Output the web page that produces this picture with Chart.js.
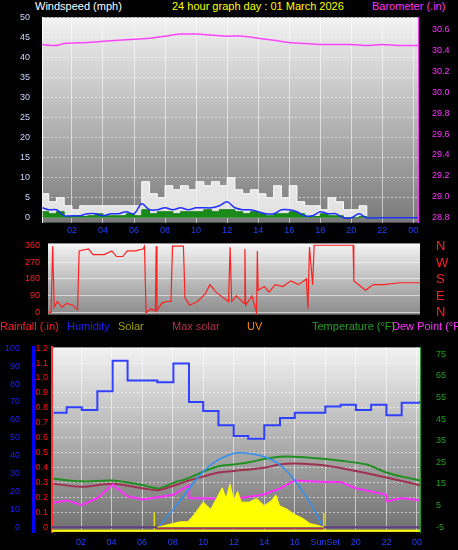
<!DOCTYPE html>
<html>
<head>
<meta charset="utf-8">
<script src="https://cdn.jsdelivr.net/npm/chart.js@4.4.0/dist/chart.umd.min.js"></script>
<style>
  body { margin: 0; background: #000; width: 458px; height: 550px; overflow: hidden; font-family: "Liberation Sans", Arial, sans-serif; }
  canvas { position: absolute; left: 0; }
  .t { position: absolute; font-size: 11px; white-space: nowrap; line-height: 12px; }
</style>
</head>
<body>
<div class="t" style="left:35px;top:0;color:#fff">Windspeed (mph)</div>
<div class="t" style="left:172px;top:0;color:#ffff00">24 hour graph day : 01 March 2026</div>
<div class="t" style="left:372px;top:0;color:#ff33ff">Barometer (.in)</div>
<canvas id="top" style="top:0" width="458" height="240"></canvas>
<canvas id="mid" style="top:230px" width="458" height="98"></canvas>
<div class="t" style="left:436px;top:238px;color:#ff2020;font-size:13px;line-height:16.5px">N<br>W<br>S<br>E<br>N</div>
<div class="t" style="left:0;top:320px;color:#ff2020">Rainfall (.in)</div>
<div class="t" style="left:67px;top:320px;color:#2020ff">Humidity</div>
<div class="t" style="left:118px;top:320px;color:#a0a000">Solar</div>
<div class="t" style="left:172px;top:320px;color:#b03050">Max solar</div>
<div class="t" style="left:247px;top:320px;color:#ff8c00">UV</div>
<div class="t" style="left:312px;top:320px;color:#20a020">Temperature (°F)</div>
<div class="t" style="left:392px;top:320px;color:#ff33ff">Dew Point (°F</div>
<canvas id="bot" style="top:334px" width="458" height="216"></canvas>
<script>
// ---- data (hours of the day) ----
const baroHours = [0, 1, 1.5, 3, 4, 5, 6, 7, 8, 9, 10, 11, 12, 13, 14, 15, 16, 17, 18, 19, 20, 21, 22, 23, 24.3];
const baroValues = [30.46, 30.45, 30.47, 30.48, 30.49, 30.50, 30.51, 30.52, 30.54, 30.56, 30.56, 30.55, 30.54, 30.54, 30.52, 30.50, 30.48, 30.47, 30.46, 30.46, 30.46, 30.45, 30.46, 30.45, 30.45];

const windHours = [0.1, 0.5, 1, 1.5, 2, 2.5, 3, 3.5, 4, 4.5, 5, 5.5, 6, 6.5, 7, 7.5, 8, 8.5, 9, 9.5, 10, 10.5, 11, 11.5, 12, 12.5, 13, 13.5, 14, 14.5, 15, 15.5, 16, 16.5, 17, 17.5, 18, 18.5, 19, 19.5, 20, 20.5, 21, 22, 23, 24.3];
const windGust = [6, 4, 5, 3, 2, 3, 3, 3, 3, 3, 3, 3, 3, 9, 6, 5, 8, 7, 8, 7, 9, 8, 9, 8, 10, 7, 6, 7, 6, 5, 8, 5, 8, 4, 3, 3, 2, 5, 4, 2, 2, 3, 0, 0, 0, 0];
const windAvg = [2.5, 2, 2, 0.5, 0.5, 0.5, 1, 1, 0.5, 1, 1, 1.5, 1, 3.5, 2, 2, 2.5, 2, 2.5, 2, 2.5, 2.5, 2.5, 3, 4, 2.5, 2, 2, 1.5, 1, 1, 2, 2, 1.5, 0.5, 0.5, 1.5, 1, 1, 0, 0, 1, 0, 0, 0, 0];
const windSpeed = [1.5, 1, 1.5, 0.3, 0.5, 0.3, 0.5, 1, 0.5, 0.5, 0.5, 1, 0.5, 2, 1, 1.5, 1.5, 1, 1.5, 1.5, 1.5, 2, 1.5, 2, 2, 1.5, 1, 1.5, 1, 0.5, 1, 1, 1.5, 1, 0.3, 0.3, 1, 0.5, 0.5, 0, 0, 0.3, 0, 0, 0, 0];
const windTicks = [0, 5, 10, 15, 20, 25, 30, 35, 40, 45, 50];
const baroTicks = [28.8, 29, 29.2, 29.4, 29.6, 29.8, 30, 30.2, 30.4, 30.6];

const dirHours = [0.1, 0.6, 0.7, 0.8, 1.0, 1.3, 1.6, 2.0, 2.3, 2.4, 3.0, 3.3, 4.0, 4.5, 4.8, 5.2, 5.5, 6.0, 6.5, 6.6, 6.7, 7.0, 7.3, 7.35, 7.4, 7.7, 8.0, 8.3, 8.4, 9.1, 9.2, 9.5, 10, 10.5, 10.8, 11.2, 11.5, 12, 12.1, 12.2, 12.5, 13.0, 13.05, 13.1, 13.5, 13.8, 13.85, 13.9, 14.3, 14.6, 15, 15.5, 16, 16.5, 17, 17.1, 17.2, 17.4, 17.5, 20, 20.05, 20.5, 20.8, 21.3, 22, 23, 24.3];
const dirValues = [10, 0, 355, 30, 60, 30, 50, 40, 15, 330, 340, 310, 310, 330, 300, 300, 330, 330, 340, 355, 0, 20, 10, 355, 10, 50, 60, 60, 355, 355, 80, 40, 60, 100, 150, 110, 90, 60, 350, 60, 90, 50, 340, 40, 90, 0, 330, 120, 140, 110, 150, 140, 170, 150, 180, 20, 350, 150, 360, 360, 170, 140, 120, 150, 150, 160, 160];
const dirTicks = [0, 90, 180, 270, 360];

const humHours = [0.2, 1.06, 2.05, 3.07, 4.07, 5.05, 7.0, 8.05, 9.07, 10.0, 11.0, 12.0, 12.95, 14.0, 15.03, 16.0, 18.0, 19.0, 20.0, 21.0, 22.0, 23.0, 24.2];
const humValues = [64, 67, 65.5, 76, 93, 82, 81, 91.5, 70, 65, 57, 51, 49.5, 57, 61, 64, 67.5, 68.5, 65.5, 68.5, 62.5, 69.5, 70.5];

const tempHours = [0.2, 2.05, 4.1, 6.1, 7.1, 8.05, 9.07, 10.0, 11.0, 12.0, 13.0, 14.0, 15.0, 16.0, 18.0, 19.0, 20.7, 22.0, 23.0, 24.2];
const tempValues = [17.4, 16.2, 16.6, 14.4, 12.9, 15.5, 17.8, 20.7, 23.2, 24, 25, 26.5, 27.6, 27.6, 26.5, 25.7, 24, 20.3, 18.4, 16.6];
const maxSolarHours = [0.2, 2.05, 4.1, 6.1, 7.1, 9.07, 10.0, 11.0, 12.0, 14.0, 15.0, 16.0, 18.0, 20.0, 22.0, 24.2];
const maxSolarValues = [15.1, 13.7, 15.1, 12.9, 12.2, 16.6, 18.4, 20.3, 21, 22.5, 24, 24.4, 23.5, 21, 18, 14.4];
const dewHours = [0.2, 1.06, 2.05, 3.07, 4.07, 5.05, 6.08, 8.05, 9.07, 9.1, 11.97, 13.9, 15.03, 16.0, 18.0, 19.0, 20.0, 22.0, 22.05, 23.0, 24.2];
const dewValues = [6.3, 7.4, 5.3, 8.5, 14.7, 9.3, 7.8, 10, 14.4, 8.5, 8, 10, 12.9, 16.6, 15.9, 15.9, 13, 10, 7, 8.5, 7.5];
const sunArcHours = [7.06, 8, 9, 10, 11, 12, 12.4, 13, 14, 15, 16, 17, 17.87];
const sunArcValues = [-5, 2.9, 12.2, 20.7, 26.2, 29.1, 29.4, 29.1, 27.6, 24, 16.6, 6.3, -5];
const solarHours = [7, 7.5, 8, 8.5, 9, 9.5, 10, 10.5, 11, 11.25, 11.5, 11.75, 12, 12.25, 12.5, 13, 13.5, 14, 14.5, 14.75, 15, 15.5, 16, 16.5, 17, 17.5, 17.9];
const solarValues = [0, 1, 2, 3, 3, 8, 14, 10, 18, 22, 16, 24, 15, 20, 14, 14, 16, 12, 15, 18, 12, 10, 7, 5, 2, 1, 0];
const sunLines = [6.8, 17.9];
const humTicks = [0, 10, 20, 30, 40, 50, 60, 70, 80, 90, 100];
const rainTicks = [0, 0.1, 0.2, 0.3, 0.4, 0.5, 0.6, 0.7, 0.8, 0.9, 1, 1.1, 1.2];
const tempTicks = [-5, 0, 5, 10, 15, 20, 25, 30, 35, 40, 45, 50, 55, 60, 65, 70, 75];
const hourTicks = [2, 4, 6, 8, 10, 12, 14, 16, 18, 20, 22, 24];

const pts = (xs, ys) => xs.map((x, i) => ({ x, y: ys[i] }));
const fixTicks = list => s => { s.ticks = list.map(v => ({ value: v })); };
const hourLabel = v => String(v % 24).padStart(2, '0');
const font = { family: 'Liberation Sans', size: 9 };
const grid = { color: 'rgba(255,255,255,0.55)', borderDash: [1, 2], drawTicks: false };
const xTicks = { color: '#2040ff', font, maxRotation: 0, autoSkip: false };

const gradientBg = (c1, c2) => ({
    id: 'bg',
    beforeDraw(chart) {
        const { ctx, chartArea: a } = chart;
        const g = ctx.createLinearGradient(0, a.top, 0, a.bottom);
        g.addColorStop(0, c1);
        g.addColorStop(1, c2);
        ctx.save();
        ctx.fillStyle = g;
        ctx.fillRect(a.left, a.top, a.right - a.left, a.bottom - a.top);
        ctx.restore();
    }
});

const line = (data, color, extra) => Object.assign({
    data, borderColor: color, borderWidth: 1.5, pointRadius: 0, fill: false
}, extra);

// ---- top chart: wind & barometer ----
new Chart(document.getElementById('top'), {
    type: 'line',
    data: {
        datasets: [
            line(pts(baroHours, baroValues), '#ff44ff', { yAxisID: 'baro', tension: 0.3, order: 0 }),
            line(pts(windHours, windGust), '#ffffff', { yAxisID: 'wind', fill: 'origin', backgroundColor: 'rgba(245,245,245,0.85)', stepped: true, borderWidth: 1, order: 3 }),
            line(pts(windHours, windSpeed), '#108010', { yAxisID: 'wind', fill: 'origin', backgroundColor: '#1a8a1a', stepped: true, borderWidth: 1, order: 2 }),
            line(pts(windHours, windAvg), '#2030ff', { yAxisID: 'wind', tension: 0.3, order: 1 })
        ]
    },
    options: {
        responsive: false, animation: false,
        layout: { padding: { top: 10 } },
        plugins: { legend: { display: false }, tooltip: { enabled: false } },
        scales: {
            x: {
                type: 'linear', min: 0.07, max: 24.3,
                afterBuildTicks: fixTicks(hourTicks), afterFit: s => { s.height = 15; },
                ticks: { ...xTicks, callback: hourLabel, padding: 3 },
                grid, border: { display: false }
            },
            wind: {
                position: 'left', min: -1.2, max: 50,
                afterBuildTicks: fixTicks(windTicks), afterFit: s => { s.width = 42; },
                ticks: { color: '#c8d8ff', font, padding: 12 },
                grid, border: { color: '#ffffff', dash: [2, 2] }
            },
            baro: {
                position: 'right', min: 28.75, max: 30.72,
                afterBuildTicks: fixTicks(baroTicks), afterFit: s => { s.width = 40; },
                ticks: { color: '#ff33ff', font, padding: 6 },
                grid: { display: false }, border: { color: '#ff33ff', dash: [2, 2] }
            }
        }
    },
    plugins: [gradientBg('#f2f2f2', '#7a7a7a')]
});

// ---- middle chart: wind direction ----
new Chart(document.getElementById('mid'), {
    type: 'line',
    data: { datasets: [line(pts(dirHours, dirValues), '#ff2020', { borderWidth: 1.2 })] },
    options: {
        responsive: false, animation: false,
        layout: { padding: { top: 0, bottom: 0, right: 38 } },
        plugins: { legend: { display: false }, tooltip: { enabled: false } },
        scales: {
            x: { type: 'linear', min: 0.4, max: 24.3, display: false },
            y: {
                min: -10, max: 370,
                afterBuildTicks: fixTicks(dirTicks), afterFit: s => { s.width = 48; },
                ticks: { color: '#ff2020', font, padding: 8 },
                grid, border: { display: false }
            }
        }
    },
    plugins: [gradientBg('#f4f4f4', '#8a8a8a')]
});

// ---- bottom chart: temperature, humidity, solar ----
new Chart(document.getElementById('bot'), {
    type: 'line',
    data: {
        datasets: [
            line(pts(solarHours, solarValues), '#ffff00', { yAxisID: 'hum', fill: 'origin', backgroundColor: '#ffff00', borderWidth: 1 }),
            line([{ x: 0.1, y: 0 }, { x: 24.2, y: 0 }], '#604080', { yAxisID: 'rain', borderWidth: 2 }),
            line([{ x: 7, y: 0 }, { x: 17.9, y: 0 }], '#ff1010', { yAxisID: 'rain', borderWidth: 3 }),
            line([{ x: 0.1, y: -2 }, { x: 24.2, y: -2 }], '#ffff00', { yAxisID: 'hum', borderWidth: 2 }),
            ...sunLines.map(h => line([{ x: h, y: -2 }, { x: h, y: 8 }], '#dddd00', { yAxisID: 'hum', borderWidth: 1.5 })),
            line(pts(sunArcHours, sunArcValues), '#3090f0', { yAxisID: 'temp', tension: 0.4 }),
            line(pts(dewHours, dewValues), '#ff30ff', { yAxisID: 'temp', borderWidth: 2 }),
            line(pts(maxSolarHours, maxSolarValues), '#a03050', { yAxisID: 'temp', borderWidth: 2, tension: 0.3 }),
            line(pts(tempHours, tempValues), '#209020', { yAxisID: 'temp', borderWidth: 2, tension: 0.3 }),
            line(pts(humHours, humValues), '#3040ff', { yAxisID: 'hum', stepped: true, borderWidth: 2 })
        ]
    },
    options: {
        responsive: false, animation: false,
        layout: { padding: { top: 0 } },
        plugins: { legend: { display: false }, tooltip: { enabled: false } },
        scales: {
            x: {
                type: 'linear', min: 0.1, max: 24.2,
                afterBuildTicks: fixTicks(hourTicks), afterFit: s => { s.height = 18; },
                ticks: { ...xTicks, padding: 5, callback: v => v === 18 ? 'SunSet' : hourLabel(v) },
                grid, border: { display: false }
            },
            hum: {
                position: 'left', weight: 2, min: -2.7, max: 100.5,
                afterBuildTicks: fixTicks(humTicks), afterFit: s => { s.width = 33; },
                ticks: { color: '#2020ff', font, padding: 5 },
                grid: { display: false }, border: { color: '#0000ff', width: 3 }
            },
            rain: {
                position: 'left', weight: 1, min: -0.032, max: 1.205,
                afterBuildTicks: fixTicks(rainTicks), afterFit: s => { s.width = 19; },
                ticks: { color: '#ff1010', font, padding: 4 },
                grid, border: { color: '#ff3030', dash: [2, 2], width: 2 }
            },
            temp: {
                position: 'right', min: -7.2, max: 78.1,
                afterBuildTicks: fixTicks(tempTicks), afterFit: s => { s.width = 38; },
                ticks: { color: '#20a020', font, padding: 8 },
                grid: { display: false }, border: { color: '#20a020', dash: [2, 2] }
            }
        }
    },
    plugins: [gradientBg('#f2f2f2', '#707070')]
});
</script>
</body>
</html>
